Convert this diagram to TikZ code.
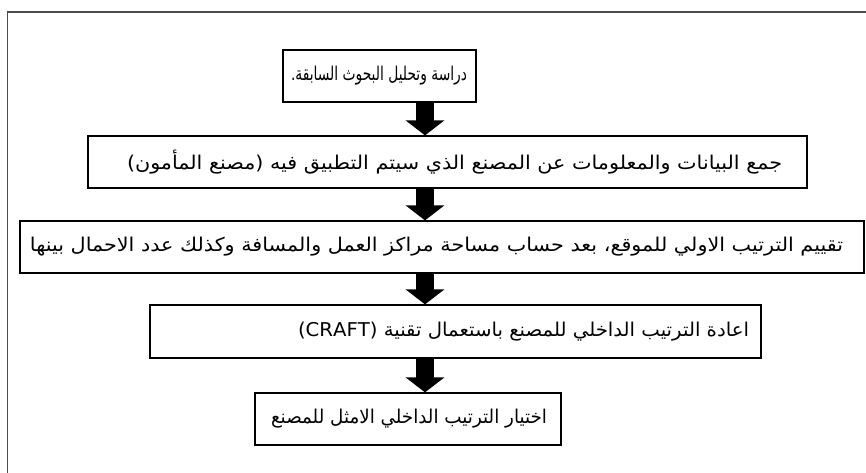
\documentclass[tikz,border=0pt]{standalone}
\usepackage{graphicx}
\usepackage{fontspec}
\TeXXeTstate=1
\newfontfamily\arabicfont[Script=Arabic]{DejaVu Sans}
\usetikzlibrary{arrows.meta}
\newsavebox\rtlbox
\newcommand\rtltext[4]{\sbox\rtlbox{#4}\pgfmathsetmacro\rtlscale{#2/\wd\rtlbox}\makebox[#1][r]{\scalebox{\rtlscale}[1]{\usebox\rtlbox}\hspace*{#3}}}
\begin{document}
\begin{tikzpicture}[x=1pt,y=-1pt,
  box/.style={draw=black, line width=1.2pt, inner sep=0pt, font=\arabicfont\fontsize{19}{22}\selectfont, minimum height=52pt},
  flow/.style={line width=18pt, -{Triangle[width=38pt,length=15pt]}},
  frame/.style={draw=black!70, line width=1.3pt}]
\useasboundingbox (0,0) rectangle (866,473);
\draw[frame] (7.7,12) rectangle (900,500);
\coordinate (ax) at (425,0);
\node[box] (b1) at (379.5,76) {\rtltext{193pt}{176pt}{9pt}{\beginR دراسة وتحليل البحوث السابقة.\endR}};
\node[box] (b2) at (447.5,162) {\rtltext{719pt}{655pt}{25pt}{\beginR جمع البيانات والمعلومات عن المصنع الذي سيتم التطبيق فيه (مصنع المأمون)\endR}};
\node[box] (b3) at (442,247) {\rtltext{844pt}{813pt}{21pt}{\beginR تقييم الترتيب الاولي للموقع، بعد حساب مساحة مراكز العمل والمسافة وكذلك عدد الاحمال بينها\endR}};
\node[box, minimum height=53pt] (b4) at (455.5,331.5) {\rtltext{611pt}{451pt}{12pt}{\beginR اعادة الترتيب الداخلي للمصنع باستعمال تقنية (\beginL CRAFT\endL)\endR}};
\node[box] (b5) at (408,419) {\rtltext{306pt}{276pt}{14pt}{\beginR اختيار الترتيب الداخلي الامثل للمصنع\endR}};
\draw[flow] (b1.south -| ax) -- (b2.north -| ax);
\draw[flow] (b2.south -| ax) -- (b3.north -| ax);
\draw[flow] (b3.south -| ax) -- (b4.north -| ax);
\draw[flow] (b4.south -| ax) -- (b5.north -| ax);
\end{tikzpicture}
\end{document}
